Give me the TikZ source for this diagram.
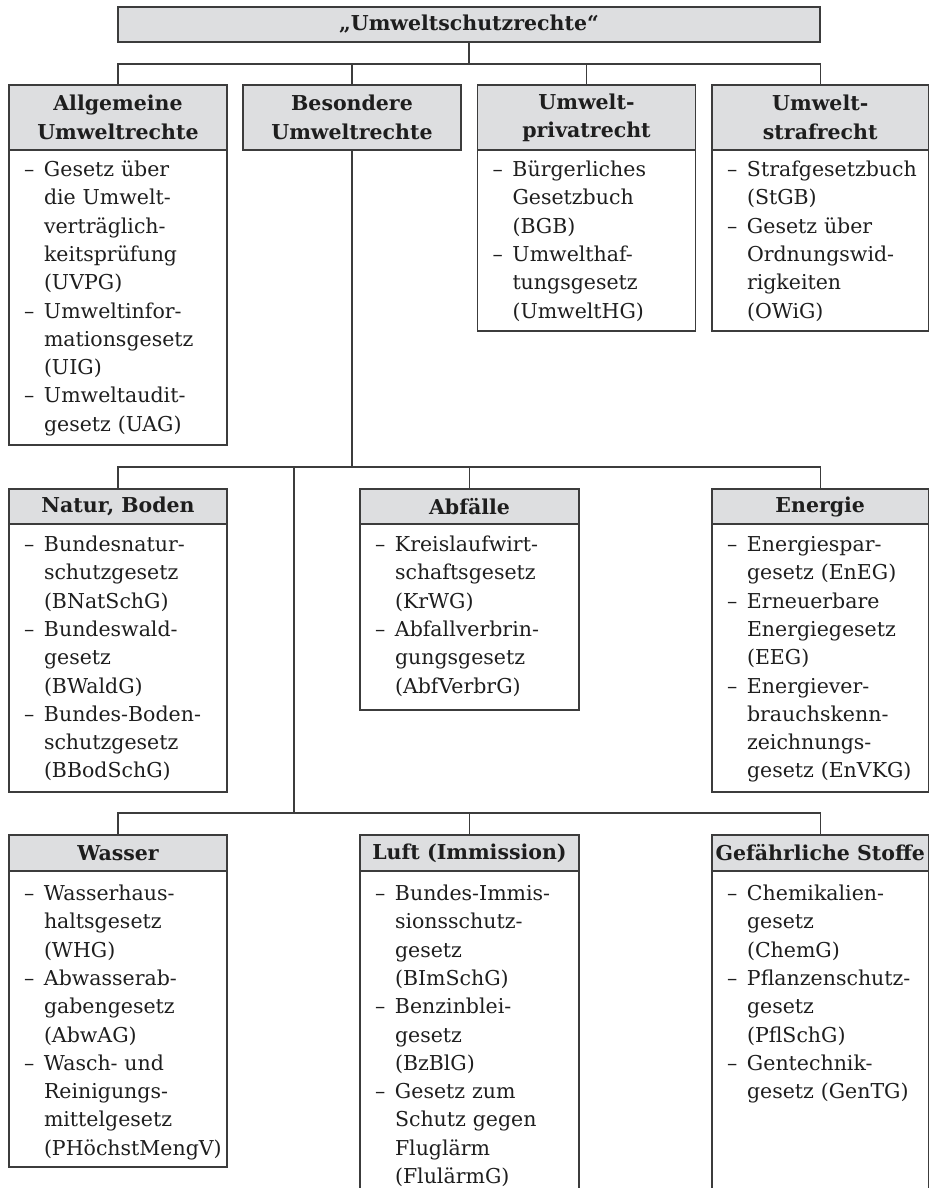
\documentclass[tikz,border=0pt]{standalone}
\usepackage{fontspec}
\setmainfont{DejaVu Serif}
\usetikzlibrary{calc}
\setlength\parindent{0pt}
\definecolor{hdrfill}{RGB}{221,222,224}
\definecolor{linec}{RGB}{60,60,60}
\definecolor{txtc}{RGB}{30,30,30}
\newcommand\dsh{\makebox[20pt][l]{–}}
\newcommand\ind{\hspace*{20pt}}
\begin{document}
\begin{tikzpicture}[x=1pt,y=-1pt,
  hdrbox/.style={draw=linec, fill=hdrfill, line width=1.1pt, inner sep=0pt, outer sep=0pt,
     align=center, font=\fontsize{20.5}{28.3}\selectfont\bfseries, text=txtc},
  bodybox/.style={draw=linec, line width=1.1pt, inner sep=0pt, outer sep=0pt},
  bodytxt/.style={inner sep=0pt, outer sep=0pt, anchor=base west, text width=200pt, align=left,
     font=\fontsize{20.5}{28.3}\selectfont, text=txtc},
  wire/.style={draw=linec, line width=1.1pt}
]
\useasboundingbox (0,0) rectangle (929,1188);

% top
\node[hdrbox, minimum width=702, minimum height=35] (top) at (469,24.5) {„Umweltschutzrechte“};

% row 1 headers
\node[hdrbox, minimum width=218, minimum height=65] (hA) at (118,117.5) {Allgemeine\\Umweltrechte};
\node[hdrbox, minimum width=218, minimum height=65] (hB) at (352,117.5) {Besondere\\Umweltrechte};
\node[hdrbox, minimum width=218, minimum height=65] (hC) at (586.5,117.5) {Umwelt-\\privatrecht};
\node[hdrbox, minimum width=216.5, minimum height=65] (hD) at (820.25,117.5) {Umwelt-\\strafrecht};

% row 1 bodies
\node[bodybox, minimum width=218, minimum height=295, anchor=north] (bA) at (hA.south) {};
\node[bodybox, minimum width=218, minimum height=181, anchor=north] (bC) at (hC.south) {};
\node[bodybox, minimum width=216.5, minimum height=181, anchor=north] (bD) at (hD.south) {};

\node[bodytxt] (tA) at ($(bA.north west)+(15,26.5)$) {\dsh Gesetz über\\
\ind die Umwelt-\\
\ind verträglich-\\
\ind keitsprüfung\\
\ind (UVPG)\\
\dsh Umweltinfor-\\
\ind mationsgesetz\\
\ind (UIG)\\
\dsh Umweltaudit-\\
\ind gesetz (UAG)};
\node[bodytxt] (tC) at ($(bC.north west)+(15,26.5)$) {\dsh Bürgerliches\\
\ind Gesetzbuch\\
\ind (BGB)\\
\dsh Umwelthaf-\\
\ind tungsgesetz\\
\ind (UmweltHG)};
\node[bodytxt] (tD) at ($(bD.north west)+(15,26.5)$) {\dsh Strafgesetzbuch\\
\ind (StGB)\\
\dsh Gesetz über\\
\ind Ordnungswid-\\
\ind rigkeiten\\
\ind (OWiG)};

% row 2 headers
\node[hdrbox, minimum width=218, minimum height=35] (hN) at (118,506.5) {Natur, Boden};
\node[hdrbox, minimum width=219, minimum height=35] (hAb) at (469.5,506.5) {Abfälle};
\node[hdrbox, minimum width=216.5, minimum height=35] (hE) at (820.25,506.5) {Energie};

\node[bodybox, minimum width=218, minimum height=268, anchor=north] (bN) at (hN.south) {};
\node[bodybox, minimum width=219, minimum height=186, anchor=north] (bAb) at (hAb.south) {};
\node[bodybox, minimum width=216.5, minimum height=268, anchor=north] (bE) at (hE.south) {};

\node[bodytxt] (tN) at ($(bN.north west)+(15,27.5)$) {\dsh Bundesnatur-\\
\ind schutzgesetz\\
\ind (BNatSchG)\\
\dsh Bundeswald-\\
\ind gesetz\\
\ind (BWaldG)\\
\dsh Bundes-Boden-\\
\ind schutzgesetz\\
\ind (BBodSchG)};
\node[bodytxt] (tAb) at ($(bAb.north west)+(15,27.5)$) {\dsh Kreislaufwirt-\\
\ind schaftsgesetz\\
\ind (KrWG)\\
\dsh Abfallverbrin-\\
\ind gungsgesetz\\
\ind (AbfVerbrG)};
\node[bodytxt] (tE) at ($(bE.north west)+(15,27.5)$) {\dsh Energiespar-\\
\ind gesetz (EnEG)\\
\dsh Erneuerbare\\
\ind Energiegesetz\\
\ind (EEG)\\
\dsh Energiever-\\
\ind brauchskenn-\\
\ind zeichnungs-\\
\ind gesetz (EnVKG)};

% row 3 headers
\node[hdrbox, minimum width=218, minimum height=36] (hW) at (118,853) {Wasser};
\node[hdrbox, minimum width=219, minimum height=36] (hL) at (469.5,853) {Luft (Immission)};
\node[hdrbox, minimum width=216.5, minimum height=36] (hG) at (820.25,853) {Gefährliche Stoffe};

\node[bodybox, minimum width=218, minimum height=296, anchor=north] (bW) at (hW.south) {};
\node[bodybox, minimum width=219, minimum height=340, anchor=north] (bL) at (hL.south) {};
\node[bodybox, minimum width=216.5, minimum height=340, anchor=north] (bG) at (hG.south) {};

\node[bodytxt] (tW) at ($(bW.north west)+(15,29.5)$) {\dsh Wasserhaus-\\
\ind haltsgesetz\\
\ind (WHG)\\
\dsh Abwasserab-\\
\ind gabengesetz\\
\ind (AbwAG)\\
\dsh Wasch- und\\
\ind Reinigungs-\\
\ind mittelgesetz\\
\ind (PHöchstMengV)};
\node[bodytxt] (tL) at ($(bL.north west)+(15,29.5)$) {\dsh Bundes-Immis-\\
\ind sionsschutz-\\
\ind gesetz\\
\ind (BImSchG)\\
\dsh Benzinblei-\\
\ind gesetz\\
\ind (BzBlG)\\
\dsh Gesetz zum\\
\ind Schutz gegen\\
\ind Fluglärm\\
\ind (FlulärmG)};
\node[bodytxt] (tG) at ($(bG.north west)+(15,29.5)$) {\dsh Chemikalien-\\
\ind gesetz\\
\ind (ChemG)\\
\dsh Pflanzenschutz-\\
\ind gesetz\\
\ind (PflSchG)\\
\dsh Gentechnik-\\
\ind gesetz (GenTG)};

% connectors
\coordinate (bus1) at (0,64);
\coordinate (bus2) at (0,467);
\coordinate (bus3) at (0,813);
\coordinate (spine) at (294,467);

\draw[wire] (top.south) -- (top.south |- bus1);
\draw[wire] (hA.north) |- (hD.north |- bus1) -- (hD.north);
\draw[wire] (hB.north) -- (hB.north |- bus1);
\draw[wire] (hC.north) -- (hC.north |- bus1);

\draw[wire] (hB.south) -- (hB.south |- bus2);
\draw[wire] (hN.north) |- (hE.north |- bus2) -- (hE.north);
\draw[wire] (hAb.north) -- (hAb.north |- bus2);
\draw[wire] (spine) -- (spine |- bus3);

\draw[wire] (hW.north) |- (hG.north |- bus3) -- (hG.north);
\draw[wire] (hL.north) -- (hL.north |- bus3);
\end{tikzpicture}
\end{document}
